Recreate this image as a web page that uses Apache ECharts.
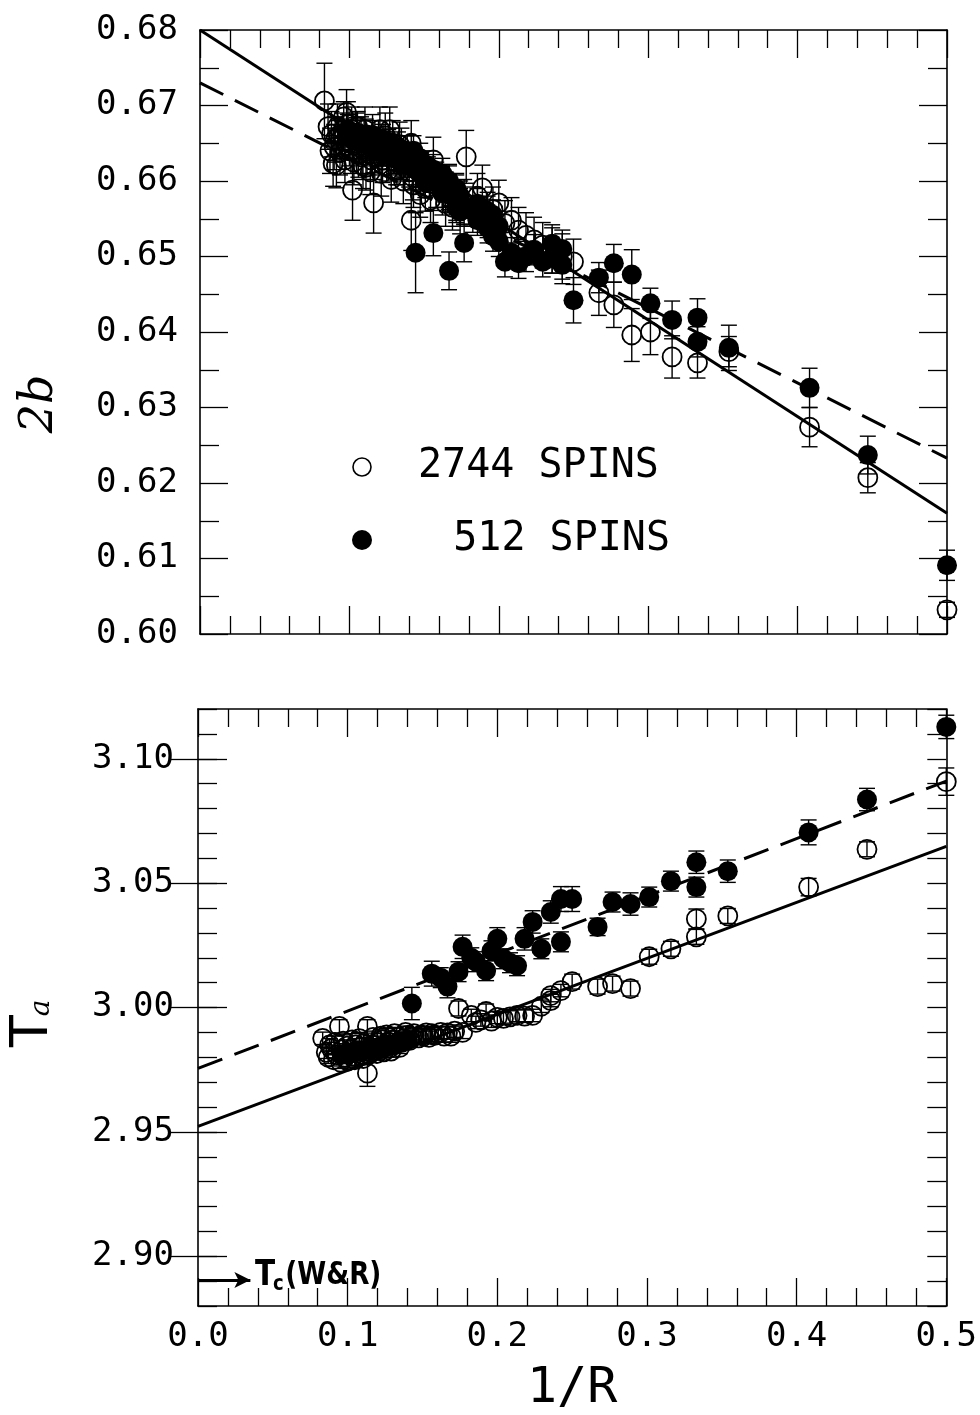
<!DOCTYPE html>
<html>
<head>
<meta charset="utf-8">
<script src="https://cdn.jsdelivr.net/npm/echarts@6/dist/echarts.min.js"></script>
<style>html,body{margin:0;padding:0;background:#fff}#c{width:980px;height:1415px}</style>
</head>
<body>
<div id="c"></div>
<script>
// ---------- data: [1/R, value, error] ----------
const topOpen = [
 [0.0833,0.6706,0.0050],[0.0857,0.6672,0.0030],[0.0870,0.6640,0.0030],[0.0880,0.6662,0.0030],
 [0.0891,0.6623,0.0030],[0.0898,0.6645,0.0030],[0.0905,0.6655,0.0030],[0.0913,0.6621,0.0030],
 [0.0920,0.6672,0.0030],[0.0928,0.6660,0.0020],[0.0937,0.6638,0.0030],[0.0945,0.6648,0.0020],
 [0.0953,0.6660,0.0030],[0.0962,0.6685,0.0020],[0.0970,0.6628,0.0030],[0.0981,0.6691,0.0030],
 [0.0990,0.6675,0.0030],[0.0995,0.6662,0.0020],[0.1000,0.6650,0.0030],[0.1010,0.6640,0.0030],
 [0.1015,0.6668,0.0030],[0.1021,0.6588,0.0040],[0.1030,0.6625,0.0030],[0.1037,0.6655,0.0020],
 [0.1048,0.6660,0.0030],[0.1054,0.6672,0.0020],[0.1060,0.6635,0.0030],[0.1066,0.6645,0.0020],
 [0.1078,0.6655,0.0030],[0.1085,0.6632,0.0030],[0.1091,0.6620,0.0030],[0.1098,0.6660,0.0020],
 [0.1104,0.6668,0.0030],[0.1111,0.6618,0.0030],[0.1118,0.6640,0.0030],[0.1132,0.6650,0.0020],
 [0.1140,0.6612,0.0030],[0.1147,0.6628,0.0020],[0.1155,0.6658,0.0030],[0.1162,0.6571,0.0040],
 [0.1170,0.6632,0.0030],[0.1179,0.6640,0.0020],[0.1195,0.6650,0.0030],[0.1204,0.6668,0.0030],
 [0.1213,0.6610,0.0030],[0.1222,0.6628,0.0030],[0.1231,0.6645,0.0020],[0.1240,0.6660,0.0030],
 [0.1250,0.6620,0.0020],[0.1260,0.6638,0.0030],[0.1270,0.6668,0.0030],[0.1280,0.6602,0.0030],
 [0.1290,0.6650,0.0030],[0.1302,0.6635,0.0020],[0.1313,0.6625,0.0030],[0.1325,0.6615,0.0020],
 [0.1336,0.6648,0.0030],[0.1348,0.6640,0.0030],[0.1361,0.6600,0.0030],[0.1374,0.6625,0.0020],
 [0.1387,0.6630,0.0030],[0.1400,0.6612,0.0020],[0.1414,0.6650,0.0030],[0.1414,0.6548,0.0040],
 [0.1425,0.6605,0.0030],[0.1429,0.6595,0.0030],[0.1443,0.6620,0.0020],[0.1474,0.6582,0.0030],
 [0.1491,0.6608,0.0020],[0.1508,0.6590,0.0030],[0.1525,0.6612,0.0020],[0.1543,0.6575,0.0030],
 [0.1562,0.6628,0.0030],[0.1581,0.6595,0.0030],[0.1622,0.6585,0.0030],[0.1644,0.6570,0.0030],
 [0.1667,0.6592,0.0030],[0.1690,0.6565,0.0030],[0.1715,0.6578,0.0030],[0.1741,0.6560,0.0030],
 [0.1768,0.6572,0.0030],[0.1782,0.6632,0.0035],[0.1826,0.6562,0.0030],[0.1857,0.6580,0.0030],
 [0.1890,0.6591,0.0030],[0.1925,0.6555,0.0030],[0.1961,0.6562,0.0030],[0.2000,0.6571,0.0030],
 [0.2041,0.6544,0.0030],[0.2085,0.6548,0.0030],[0.2132,0.6535,0.0030],[0.2182,0.6528,0.0030],
 [0.2236,0.6522,0.0030],[0.2294,0.6515,0.0030],[0.2357,0.6508,0.0030],[0.2425,0.6500,0.0030],
 [0.2500,0.6493,0.0030],[0.2670,0.6452,0.0030],[0.2770,0.6436,0.0030],[0.2890,0.6396,0.0035],
 [0.3015,0.6400,0.0030],[0.3160,0.6367,0.0028],[0.3330,0.6359,0.0020],[0.3540,0.6374,0.0020],
 [0.4080,0.6274,0.0026],[0.4470,0.6207,0.0020],[0.5000,0.6032,0.0010]
];
const topFilled = [
 [0.5000,0.6091,0.0020],[0.4470,0.6237,0.0025],[0.4080,0.6326,0.0026],[0.3540,0.6379,0.0030],
 [0.3330,0.6387,0.0020],[0.3330,0.6419,0.0025],[0.3160,0.6416,0.0025],[0.3015,0.6438,0.0020],
 [0.2890,0.6476,0.0033],[0.2770,0.6491,0.0025],[0.2670,0.6472,0.0020],[0.2500,0.6442,0.0030],
 [0.2425,0.6489,0.0025],[0.2425,0.6510,0.0025],[0.2357,0.6517,0.0025],[0.2357,0.6498,0.0020],
 [0.2294,0.6493,0.0020],[0.2236,0.6509,0.0020],[0.2182,0.6500,0.0020],[0.2132,0.6491,0.0020],
 [0.2085,0.6505,0.0020],[0.2041,0.6493,0.0020],[0.2000,0.6520,0.0020],[0.2000,0.6540,0.0020],
 [0.1961,0.6527,0.0020],[0.1961,0.6555,0.0020],[0.1925,0.6560,0.0020],[0.1925,0.6538,0.0020],
 [0.1857,0.6548,0.0020],[0.1857,0.6570,0.0020],[0.1826,0.6560,0.0020],[0.1768,0.6518,0.0025],
 [0.1741,0.6580,0.0020],[0.1741,0.6560,0.0020],[0.1715,0.6590,0.0020],[0.1715,0.6565,0.0020],
 [0.1690,0.6580,0.0020],[0.1667,0.6481,0.0025],[0.1667,0.6600,0.0020],[0.1644,0.6592,0.0020],
 [0.1622,0.6610,0.0020],[0.1622,0.6585,0.0020],[0.1581,0.6600,0.0020],[0.1562,0.6531,0.0030],
 [0.1562,0.6615,0.0020],[0.1543,0.6605,0.0020],[0.1525,0.6620,0.0020],[0.1508,0.6598,0.0020],
 [0.1491,0.6612,0.0020],[0.1474,0.6630,0.0020],[0.1443,0.6505,0.0053],[0.1443,0.6615,0.0020],
 [0.1429,0.6625,0.0020],[0.1429,0.6640,0.0020],[0.1400,0.6628,0.0020],[0.1374,0.6640,0.0020],
 [0.1350,0.6622,0.0020],[0.1325,0.6645,0.0020],[0.1300,0.6630,0.0020],[0.1270,0.6650,0.0020],
 [0.1250,0.6635,0.0020],[0.1225,0.6655,0.0020],[0.1200,0.6640,0.0020],[0.1170,0.6660,0.0020],
 [0.1140,0.6645,0.0020],[0.1110,0.6662,0.0020],[0.1080,0.6650,0.0020],[0.1050,0.6664,0.0020],
 [0.1020,0.6655,0.0020],[0.0990,0.6668,0.0020]
];
const botOpen = [
 [0.0833,2.9876,0.0025],[0.0857,2.9820,0.0025],[0.0870,2.9800,0.0025],[0.0880,2.9850,0.0025],
 [0.0891,2.9835,0.0025],[0.0905,2.9790,0.0025],[0.0915,2.9860,0.0025],[0.0928,2.9810,0.0025],
 [0.0945,2.9924,0.0027],[0.0953,2.9780,0.0025],[0.0962,2.9830,0.0025],[0.0970,2.9865,0.0025],
 [0.0981,2.9800,0.0025],[0.0995,2.9845,0.0025],[0.1000,2.9785,0.0025],[0.1010,2.9815,0.0025],
 [0.1021,2.9830,0.0025],[0.1030,2.9870,0.0025],[0.1037,2.9805,0.0025],[0.1048,2.9790,0.0025],
 [0.1054,2.9850,0.0025],[0.1066,2.9825,0.0025],[0.1078,2.9875,0.0025],[0.1085,2.9840,0.0025],
 [0.1098,2.9812,0.0025],[0.1104,2.9795,0.0025],[0.1111,2.9855,0.0025],[0.1132,2.9924,0.0027],
 [0.1132,2.9736,0.0053],[0.1140,2.9810,0.0025],[0.1147,2.9835,0.0025],[0.1162,2.9850,0.0025],
 [0.1170,2.9880,0.0025],[0.1179,2.9828,0.0025],[0.1195,2.9815,0.0025],[0.1204,2.9860,0.0025],
 [0.1213,2.9840,0.0025],[0.1222,2.9885,0.0025],[0.1231,2.9870,0.0025],[0.1240,2.9822,0.0025],
 [0.1250,2.9845,0.0025],[0.1260,2.9890,0.0025],[0.1270,2.9862,0.0025],[0.1280,2.9838,0.0025],
 [0.1290,2.9825,0.0025],[0.1302,2.9870,0.0025],[0.1313,2.9895,0.0025],[0.1325,2.9855,0.0025],
 [0.1336,2.9880,0.0025],[0.1348,2.9840,0.0025],[0.1361,2.9860,0.0025],[0.1374,2.9875,0.0025],
 [0.1387,2.9900,0.0025],[0.1400,2.9888,0.0025],[0.1414,2.9868,0.0025],[0.1429,2.9880,0.0025],
 [0.1443,2.9895,0.0025],[0.1474,2.9878,0.0025],[0.1491,2.9890,0.0025],[0.1508,2.9885,0.0025],
 [0.1525,2.9898,0.0025],[0.1543,2.9880,0.0025],[0.1562,2.9895,0.0025],[0.1581,2.9888,0.0025],
 [0.1622,2.9900,0.0025],[0.1644,2.9885,0.0025],[0.1667,2.9898,0.0025],[0.1690,2.9885,0.0025],
 [0.1715,2.9905,0.0025],[0.1741,2.9996,0.0030],[0.1768,2.9900,0.0025],[0.1826,2.9968,0.0025],
 [0.1857,2.9940,0.0025],[0.1890,2.9950,0.0025],[0.1925,2.9984,0.0030],[0.1961,2.9945,0.0025],
 [0.2000,2.9960,0.0025],[0.2041,2.9956,0.0025],[0.2085,2.9962,0.0025],[0.2132,2.9968,0.0025],
 [0.2182,2.9965,0.0025],[0.2236,2.9968,0.0025],[0.2294,3.0005,0.0025],[0.2357,3.0028,0.0025],
 [0.2357,3.0048,0.0025],[0.2425,3.0068,0.0025],[0.2500,3.0104,0.0030],[0.2670,3.0084,0.0030],
 [0.2770,3.0096,0.0030],[0.2890,3.0076,0.0030],[0.3015,3.0204,0.0030],[0.3160,3.0236,0.0030],
 [0.3330,3.0284,0.0030],[0.3330,3.0356,0.0040],[0.3540,3.0368,0.0030],[0.4080,3.0484,0.0035],
 [0.4470,3.0636,0.0030],[0.5000,3.0908,0.0055]
];
const botFilled = [
 [0.5000,3.1128,0.0047],[0.4470,3.0836,0.0045],[0.4080,3.0704,0.0050],[0.3540,3.0548,0.0045],
 [0.3330,3.0584,0.0045],[0.3330,3.0484,0.0040],[0.3160,3.0508,0.0040],[0.3015,3.0444,0.0040],
 [0.2890,3.0416,0.0045],[0.2770,3.0424,0.0040],[0.2670,3.0324,0.0035],[0.2500,3.0436,0.0050],
 [0.2425,3.0436,0.0050],[0.2425,3.0264,0.0040],[0.2357,3.0384,0.0045],[0.2294,3.0236,0.0040],
 [0.2236,3.0344,0.0045],[0.2182,3.0276,0.0045],[0.2132,3.0168,0.0040],[0.2085,3.0180,0.0040],
 [0.2041,3.0196,0.0040],[0.2000,3.0276,0.0045],[0.1961,3.0228,0.0040],[0.1925,3.0148,0.0040],
 [0.1857,3.0184,0.0040],[0.1826,3.0200,0.0040],[0.1768,3.0244,0.0047],[0.1741,3.0144,0.0040],
 [0.1667,3.0084,0.0045],[0.1622,3.0120,0.0040],[0.1562,3.0136,0.0050],[0.1429,3.0016,0.0065],
 [0.1400,2.9868,0.0025],[0.1360,2.9860,0.0025],[0.1320,2.9852,0.0025],[0.1280,2.9848,0.0025],
 [0.1240,2.9840,0.0025],[0.1200,2.9835,0.0025],[0.1160,2.9830,0.0025],[0.1120,2.9828,0.0025],
 [0.1080,2.9822,0.0025],[0.1040,2.9818,0.0025],[0.1000,2.9815,0.0025],[0.0960,2.9810,0.0025]
];
// fitted lines (end points at 1/R = 0 and 0.5)
const topSolidFit  = [[0, 0.6800], [0.5, 0.6160]];
const topDashedFit = [[0, 0.6730], [0.5, 0.6233]];
const botSolidFit  = [[0, 2.9522], [0.5, 3.0648]];
const botDashedFit = [[0, 2.9755], [0.5, 3.0910]];
// Tc(W&R) arrow value
const tcWR = 2.8905;
const tcArrowEnd = 0.035;
// tick labels
const xTickLabels = [0.0, 0.1, 0.2, 0.3, 0.4, 0.5];
const topYTickLabels = [0.60, 0.61, 0.62, 0.63, 0.64, 0.65, 0.66, 0.67, 0.68];
const botYTickLabels = [2.90, 2.95, 3.00, 3.05, 3.10];
const seriesNames = ['2744 SPINS', '512 SPINS'];

// ---------- chart ----------
const MONO = "'DejaVu Sans Mono', monospace";
const BLACK = '#000';
const chart = echarts.init(document.getElementById('c'), null, {renderer: 'canvas'});

function errRender(params, api) {
  const x = api.value(0), y = api.value(1), e = api.value(2);
  const lo = api.coord([x, y - e]), hi = api.coord([x, y + e]);
  const hw = 8;
  const st = {stroke: BLACK, lineWidth: 1.4};
  return {type: 'group', children: [
    {type: 'line', shape: {x1: lo[0], y1: lo[1], x2: hi[0], y2: hi[1]}, style: st},
    {type: 'line', shape: {x1: lo[0] - hw, y1: lo[1], x2: lo[0] + hw, y2: lo[1]}, style: st},
    {type: 'line', shape: {x1: hi[0] - hw, y1: hi[1], x2: hi[0] + hw, y2: hi[1]}, style: st}
  ]};
}

const lineSt = {color: BLACK, width: 1.6};
const tickSt = {color: BLACK, width: 1.3};

function xAx(grid, pos, labels, extra) {
  return Object.assign({
    type: 'value', gridIndex: grid, position: pos, min: 0, max: 0.5, interval: 0.1,
    axisLine: {show: true, onZero: false, lineStyle: lineSt},
    axisTick: {show: true, inside: true, length: 28, lineStyle: tickSt},
    minorTick: {show: true, splitNumber: 5, length: 18, lineStyle: tickSt},
    splitLine: {show: false},
    axisLabel: {show: labels, margin: 14, color: BLACK, fontFamily: MONO, fontSize: 34,
      formatter: v => v.toFixed(1)}
  }, extra || {});
}

const openStyle = {color: 'rgba(255,255,255,0)', borderColor: BLACK, borderWidth: 1.8, opacity: 1};
const filledStyle = {color: BLACK, opacity: 1};

const option = {
  animation: false,
  backgroundColor: '#fff',
  grid: [
    {left: 200, top: 30, width: 747, height: 604},
    {left: 198, top: 709, width: 749, height: 599}
  ],
  xAxis: [
    xAx(0, 'bottom', false),
    xAx(0, 'top', false),
    xAx(1, 'bottom', true, {name: '1/R', nameLocation: 'middle', nameGap: 58,
      nameTextStyle: {color: BLACK, fontFamily: MONO, fontSize: 50}}),
    xAx(1, 'top', false)
  ],
  yAxis: [
    {type: 'value', gridIndex: 0, position: 'left', min: 0.60, max: 0.68, interval: 0.01,
      axisLine: {show: true, onZero: false, lineStyle: lineSt},
      axisTick: {show: true, inside: true, length: 28, lineStyle: tickSt},
      minorTick: {show: true, splitNumber: 2, length: 19, lineStyle: tickSt},
      splitLine: {show: false},
      axisLabel: {margin: 22, color: BLACK, fontFamily: MONO, fontSize: 34, formatter: v => v.toFixed(2)}},
    {type: 'value', gridIndex: 0, position: 'right', min: 0.60, max: 0.68, interval: 0.01,
      axisLine: {show: true, onZero: false, lineStyle: lineSt},
      axisTick: {show: true, inside: true, length: 28, lineStyle: tickSt},
      minorTick: {show: true, splitNumber: 2, length: 19, lineStyle: tickSt},
      splitLine: {show: false}, axisLabel: {show: false}},
    {type: 'value', gridIndex: 1, position: 'left', min: 2.88, max: 3.12, interval: 0.01,
      axisLine: {show: true, onZero: false, lineStyle: lineSt},
      axisTick: {show: true, inside: true, length: 19, lineStyle: tickSt},
      splitLine: {show: false},
      axisLabel: {margin: 24, color: BLACK, fontFamily: MONO, fontSize: 34,
        formatter: v => (Math.round(v * 100) % 5 === 0 ? v.toFixed(2) : '')}},
    {type: 'value', gridIndex: 1, position: 'left', min: 2.88, max: 3.12,
      axisLine: {show: false},
      axisTick: {show: true, inside: true, length: 29, lineStyle: tickSt, customValues: botYTickLabels},
      splitLine: {show: false}, axisLabel: {show: false}},
    {type: 'value', gridIndex: 1, position: 'right', min: 2.88, max: 3.12, interval: 0.01,
      axisLine: {show: true, onZero: false, lineStyle: lineSt},
      axisTick: {show: true, inside: true, length: 19, lineStyle: tickSt},
      splitLine: {show: false}, axisLabel: {show: false}},
    {type: 'value', gridIndex: 1, position: 'right', min: 2.88, max: 3.12,
      axisLine: {show: false},
      axisTick: {show: true, inside: true, length: 29, lineStyle: tickSt, customValues: botYTickLabels},
      splitLine: {show: false}, axisLabel: {show: false}}
  ],
  series: [
    // top panel
    {type: 'custom', name: 'errTopOpen', xAxisIndex: 0, yAxisIndex: 0, renderItem: errRender,
      encode: {x: 0, y: 1}, data: topOpen, silent: true, z: 3},
    {type: 'custom', name: 'errTopFilled', xAxisIndex: 0, yAxisIndex: 0, renderItem: errRender,
      encode: {x: 0, y: 1}, data: topFilled, silent: true, z: 3},
    {type: 'scatter', name: seriesNames[1], xAxisIndex: 0, yAxisIndex: 0, data: topFilled,
      symbol: 'circle', symbolSize: 20, itemStyle: filledStyle, silent: true, z: 4},
    {type: 'scatter', name: seriesNames[0], xAxisIndex: 0, yAxisIndex: 0, data: topOpen,
      symbol: 'circle', symbolSize: 19, itemStyle: openStyle, silent: true, z: 5},
    {type: 'line', xAxisIndex: 0, yAxisIndex: 0, data: topSolidFit, showSymbol: false, symbol: 'none',
      lineStyle: {color: BLACK, width: 3}, silent: true, z: 6},
    {type: 'line', xAxisIndex: 0, yAxisIndex: 0, data: topDashedFit, showSymbol: false, symbol: 'none',
      lineStyle: {color: BLACK, width: 3, type: [26, 13]}, silent: true, z: 6},
    // bottom panel
    {type: 'custom', name: 'errBotOpen', xAxisIndex: 2, yAxisIndex: 2, renderItem: errRender,
      encode: {x: 0, y: 1}, data: botOpen, silent: true, z: 3},
    {type: 'custom', name: 'errBotFilled', xAxisIndex: 2, yAxisIndex: 2, renderItem: errRender,
      encode: {x: 0, y: 1}, data: botFilled, silent: true, z: 3},
    {type: 'scatter', name: seriesNames[1], xAxisIndex: 2, yAxisIndex: 2, data: botFilled,
      symbol: 'circle', symbolSize: 20, itemStyle: filledStyle, silent: true, z: 4},
    {type: 'scatter', name: seriesNames[0], xAxisIndex: 2, yAxisIndex: 2, data: botOpen,
      symbol: 'circle', symbolSize: 19, itemStyle: openStyle, silent: true, z: 5},
    {type: 'line', xAxisIndex: 2, yAxisIndex: 2, data: botSolidFit, showSymbol: false, symbol: 'none',
      lineStyle: {color: BLACK, width: 3}, silent: true, z: 6,
      markLine: {silent: true, symbol: ['none', 'arrow'], symbolSize: [12, 16],
        lineStyle: {color: BLACK, width: 3, type: 'solid'}, label: {show: false},
        data: [[{coord: [0, tcWR]}, {coord: [tcArrowEnd, tcWR]}]]}},
    {type: 'line', xAxisIndex: 2, yAxisIndex: 2, data: botDashedFit, showSymbol: false, symbol: 'none',
      lineStyle: {color: BLACK, width: 3, type: [26, 13]}, silent: true, z: 6}
  ],
  graphic: [
    // legend
    {type: 'circle', shape: {cx: 362, cy: 467, r: 9}, style: {fill: 'none', stroke: BLACK, lineWidth: 1.6}},
    {type: 'circle', shape: {cx: 362, cy: 540, r: 10}, style: {fill: BLACK}},
    {type: 'text', x: 418, y: 467, style: {text: seriesNames[0], fill: BLACK, font: "40px 'DejaVu Sans Mono'",
      align: 'left', verticalAlign: 'middle'}},
    {type: 'text', x: 670, y: 540, style: {text: seriesNames[1], fill: BLACK, font: "40px 'DejaVu Sans Mono'",
      align: 'right', verticalAlign: 'middle'}},
    // y-axis titles
    {type: 'text', x: 40, y: 404, rotation: Math.PI / 2,
      style: {text: '2b', fill: BLACK, font: "italic 46px 'DejaVu Serif'", align: 'center', verticalAlign: 'middle'}},
    {type: 'text', x: 33, y: 1031, rotation: Math.PI / 2,
      style: {text: 'T', fill: BLACK, font: "52px 'DejaVu Sans'", align: 'center', verticalAlign: 'middle'}},
    {type: 'text', x: 42, y: 1008, rotation: Math.PI / 2,
      style: {text: 'a', fill: BLACK, font: "italic 28px 'DejaVu Serif'", align: 'center', verticalAlign: 'middle'}},
    // Tc(W&R) label
    {type: 'group', x: 255, y: 1276, scaleX: 0.82, children: [
      {type: 'text', x: 0, y: 0, style: {text: 'T', fill: BLACK, font: "bold 36px 'DejaVu Sans'",
        align: 'left', verticalAlign: 'middle'}},
      {type: 'text', x: 22, y: 8, style: {text: 'c', fill: BLACK, font: "bold 22px 'DejaVu Sans'",
        align: 'left', verticalAlign: 'middle'}},
      {type: 'text', x: 37, y: 0, style: {text: '(W&R)', fill: BLACK, font: "bold 32px 'DejaVu Sans'",
        align: 'left', verticalAlign: 'middle'}}
    ]}
  ]
};
chart.setOption(option);
</script>
</body>
</html>
